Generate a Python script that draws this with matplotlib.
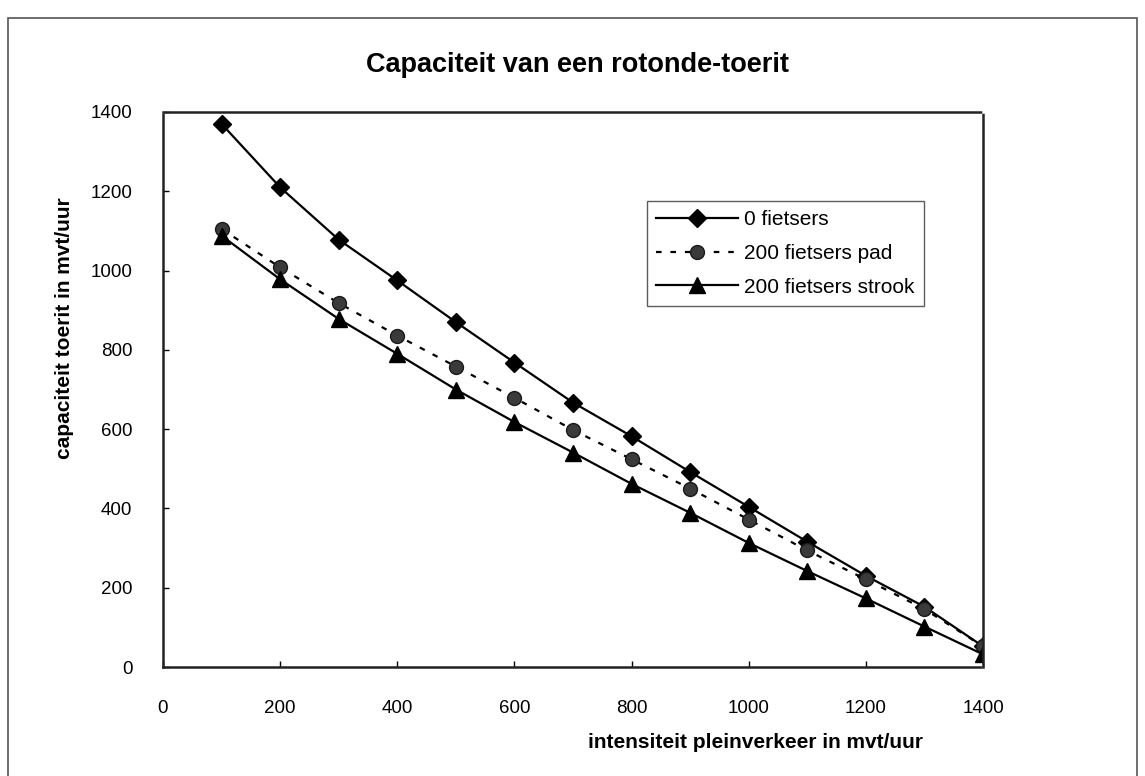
import matplotlib
matplotlib.use("Agg")
import matplotlib.pyplot as plt
from matplotlib.patches import Rectangle

plt.rcParams['font.family'] = ['Liberation Sans', 'DejaVu Sans']

# intensiteit pleinverkeer (mvt/uur)
plein = [100, 200, 300, 400, 500, 600, 700, 800, 900, 1000, 1100, 1200, 1300, 1400]
# capaciteit toerit (mvt/uur)
geen_fietsers = [1370, 1210, 1078, 975, 870, 768, 667, 582, 492, 404, 316, 230, 152, 52]
fietsers_pad = [1105, 1008, 918, 836, 758, 679, 598, 524, 450, 372, 294, 221, 146, 52]
fietsers_strook = [1088, 978, 878, 790, 700, 618, 541, 462, 389, 313, 242, 173, 102, 32]

x_ticks = [0, 200, 400, 600, 800, 1000, 1200, 1400]
y_ticks = [0, 200, 400, 600, 800, 1000, 1200, 1400]

fig = plt.figure(figsize=(11.45, 7.76), dpi=100)
W, H = 1145, 776
ax = fig.add_axes([163 / W, 1 - 667 / H, 820 / W, 555 / H])

ax.plot(plein, geen_fietsers, '-', color='black', lw=1.6, marker='D',
        markersize=9, label='0 fietsers')
ax.plot(plein, fietsers_pad, color='black', lw=1.6, ls=(0, (2.5, 4)),
        marker='o', markersize=10, markerfacecolor='#3a3a3a',
        markeredgecolor='#1a1a1a', label='200 fietsers pad')
ax.plot(plein, fietsers_strook, '-', color='black', lw=1.6, marker='^',
        markersize=11, label='200 fietsers strook')

ax.set_xlim(0, 1400)
ax.set_ylim(0, 1400)
ax.set_xticks(x_ticks)
ax.set_yticks(y_ticks)
ax.tick_params(direction='in', length=4, width=1, labelsize=13.5)
ax.tick_params(axis='x', pad=24)
ax.tick_params(axis='y', pad=22)

for s in ax.spines.values():
    s.set_linestyle((0, (1, 1)))
    s.set_linewidth(1.8)
    s.set_color('#222222')

leg = ax.legend(loc='upper left', bbox_to_anchor=((647 - 163) / 820, (667 - 201) / 555),
                fontsize=15, frameon=True, fancybox=False, handlelength=3.9,
                handletextpad=0.3, borderpad=0.45, labelspacing=0.7,
                borderaxespad=0)
leg.get_frame().set_edgecolor('#333333')
leg.get_frame().set_linewidth(1.0)

fig.text(577 / W, 1 - 65 / H, 'Capaciteit van een rotonde-toerit',
         ha='center', va='center', fontsize=19.5, fontweight='bold')
fig.text(755 / W, 1 - 742 / H, 'intensiteit pleinverkeer in mvt/uur',
         ha='center', va='center', fontsize=15, fontweight='bold')
fig.text(65 / W, 1 - 328 / H, 'capaciteit toerit in mvt/uur',
         ha='center', va='center', rotation=90, fontsize=15, fontweight='bold')

# kader rond de figuur
fig.patches.append(Rectangle((8 / W, -0.05), 1129 / W, 1.05 - 18 / H,
                             transform=fig.transFigure, fill=False,
                             edgecolor='#555555', lw=1.2))

fig.savefig('out.png', dpi=100)
